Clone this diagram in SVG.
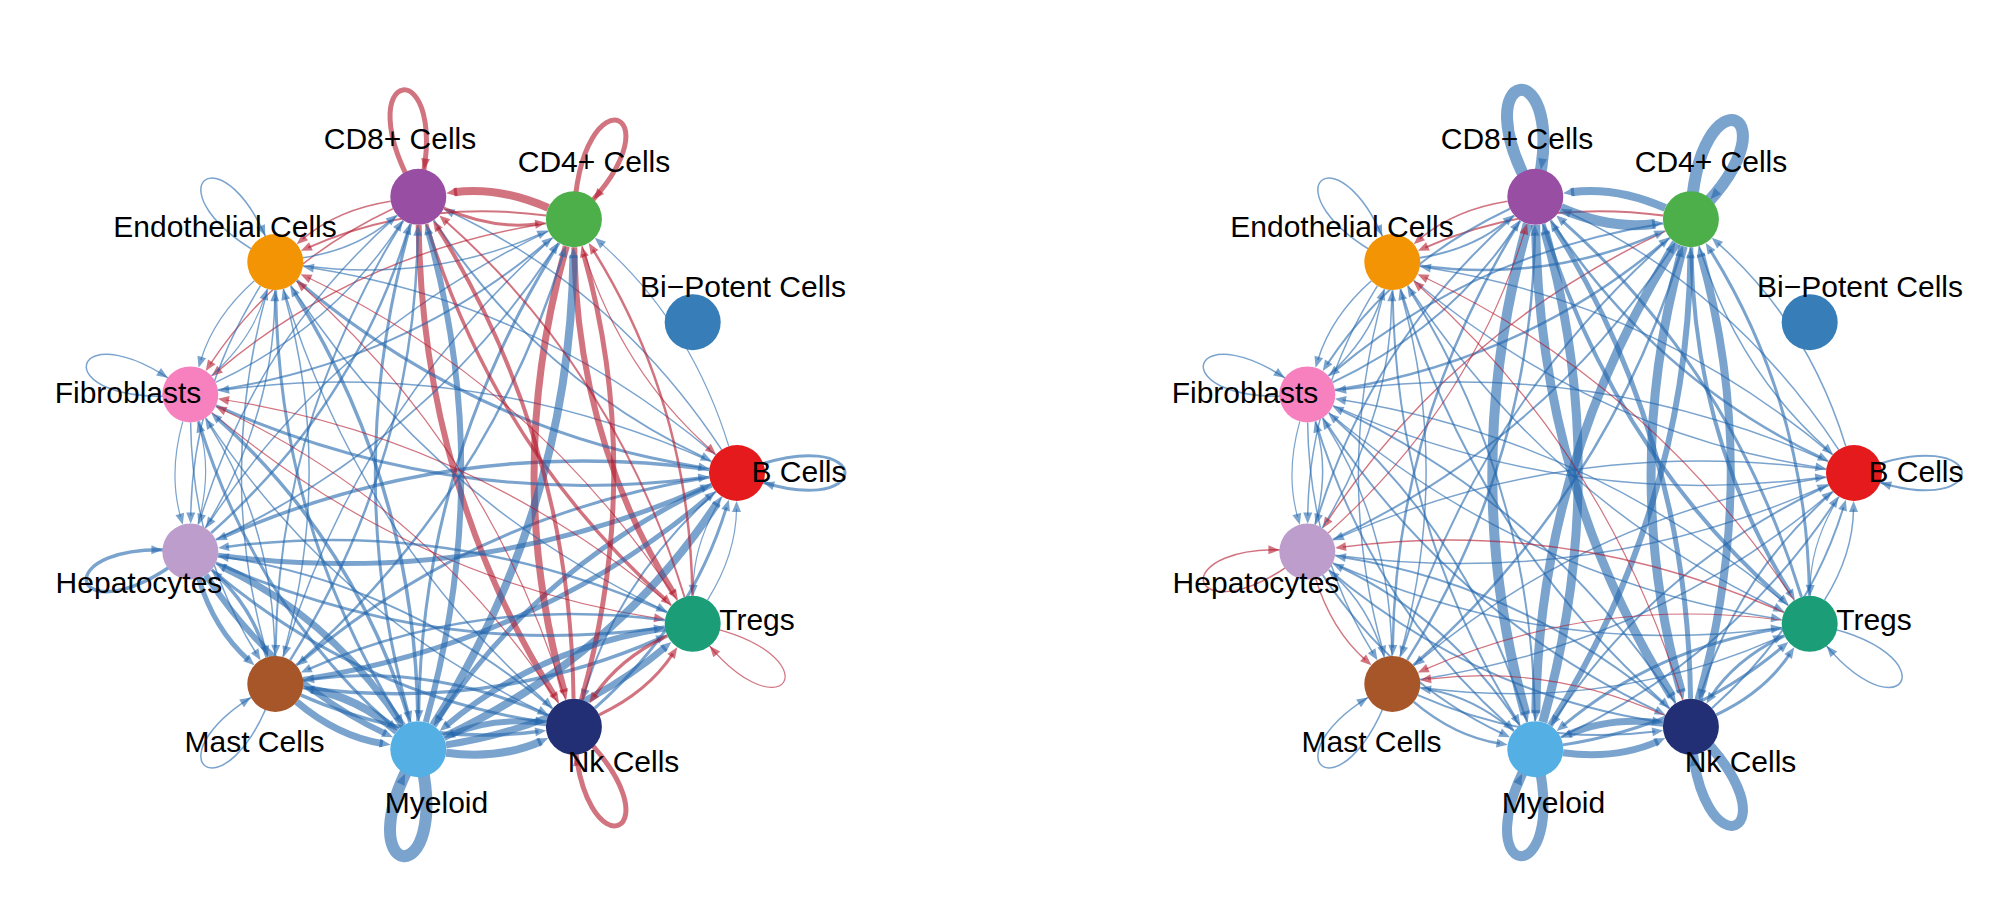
<svg xmlns="http://www.w3.org/2000/svg" width="2000" height="924" viewBox="0 0 2000 924">
<style>
.r{stroke:#b2182b;fill:#b2182b;stroke-opacity:.6;fill-opacity:.6}
.b{stroke:#2166ac;fill:#2166ac;stroke-opacity:.6;fill-opacity:.6}
.lbl{font-family:"Liberation Sans",Arial,Helvetica,sans-serif;font-size:30px;fill:#000;text-anchor:middle}
</style>
<defs>
<g id="e1"><path fill="none" d="M278.6,-28.0 Q277.96,-81.6 253.8,-120.3"/><polygon stroke="none" points="249.5,-127.1 251.6,-115.3 259.2,-120.1"/></g>
<g id="e2"><path fill="none" d="M270.8,-26.8 Q232.98,-149.74 142.8,-229.9"/><polygon stroke="none" points="136.8,-235.2 142.1,-224.5 148.0,-231.3"/></g>
<g id="e3"><path fill="none" d="M263.6,-23.4 Q158.32,-182.72 -7.1,-260.8"/><polygon stroke="none" points="-14.4,-264.2 -6.3,-255.5 -2.5,-263.6"/></g>
<g id="e4"><path fill="none" d="M257.6,-18.1 Q77.68,-170.09 -147.1,-205.3"/><polygon stroke="none" points="-155.0,-206.6 -144.9,-200.4 -143.5,-209.3"/></g>
<g id="e5"><path fill="none" d="M253.4,-11.3 Q16.65,-115.83 -232.0,-83.3"/><polygon stroke="none" points="-239.9,-82.2 -228.4,-79.2 -229.6,-88.1"/></g>
<g id="e6"><path fill="none" d="M251.2,-3.6 Q-5.35,-37.23 -234.8,64.1"/><polygon stroke="none" points="-242.1,67.3 -230.2,67.0 -233.8,58.7"/></g>
<g id="e7"><path fill="none" d="M251.3,4.3 Q18.62,40.81 -155.2,187.7"/><polygon stroke="none" points="-161.3,192.8 -150.0,189.2 -155.8,182.3"/></g>
<g id="e8"><path fill="none" d="M253.7,12.0 Q80.98,93.48 -19.9,246.2"/><polygon stroke="none" points="-24.3,252.8 -14.5,246.2 -22.0,241.2"/></g>
<g id="e9"><path fill="none" d="M258.1,18.6 Q161.92,104.06 126.5,219.4"/><polygon stroke="none" points="124.1,227.0 131.7,217.8 123.1,215.2"/></g>
<g id="e10"><path fill="none" d="M264.2,23.7 Q235.75,69.2 235.2,114.8"/><polygon stroke="none" points="235.1,122.8 239.7,111.9 230.7,111.7"/></g>
<g id="lp"><path fill="none" d="M0,0 C144,-60 144,60 0,0"/><polygon stroke="none" points="26.3,9.5 35.5,17.0 38.1,8.4"/></g>
</defs>
<rect width="2000" height="924" fill="#fff"/>

<g id="connectors-left" transform="translate(458,473)">
 <g transform="rotate(0)">
  <use href="#lp" x="279" class="b" stroke-width="3"/>
  <use href="#e2" class="b" stroke-width="1.2"/>
  <use href="#e3" class="b" stroke-width="1.5"/>
  <use href="#e4" class="b" stroke-width="1.5"/>
  <use href="#e5" class="b" stroke-width="1.5"/>
  <use href="#e6" class="b" stroke-width="3.5"/>
  <use href="#e7" class="b" stroke-width="3"/>
  <use href="#e8" class="b" stroke-width="5"/>
  <use href="#e9" class="b" stroke-width="2"/>
  <use href="#e10" class="b" stroke-width="1.2"/>
 </g>
 <g transform="rotate(-65.4545)">
  <use href="#lp" x="279" class="r" stroke-width="5"/>
  <use href="#e9" class="r" stroke-width="1.2"/>
  <use href="#e1" class="r" stroke-width="8"/>
  <use href="#e2" class="r" stroke-width="2"/>
  <use href="#e3" class="r" stroke-width="1.5"/>
  <use href="#e4" class="b" stroke-width="1.5"/>
  <use href="#e5" class="b" stroke-width="1.5"/>
  <use href="#e6" class="b" stroke-width="3"/>
  <use href="#e7" class="r" stroke-width="7"/>
  <use href="#e8" class="r" stroke-width="6"/>
 </g>
 <g transform="rotate(-98.1818)">
  <use href="#lp" x="279" class="r" stroke-width="5"/>
  <use href="#e8" class="b" stroke-width="2"/>
  <use href="#e10" class="r" stroke-width="3"/>
  <use href="#e1" class="r" stroke-width="1.5"/>
  <use href="#e2" class="r" stroke-width="1.5"/>
  <use href="#e3" class="b" stroke-width="1.5"/>
  <use href="#e4" class="b" stroke-width="2"/>
  <use href="#e5" class="b" stroke-width="3"/>
  <use href="#e6" class="r" stroke-width="6"/>
  <use href="#e7" class="r" stroke-width="3.5"/>
 </g>
 <g transform="rotate(-130.9091)">
  <use href="#lp" x="279" class="b" stroke-width="1.5"/>
  <use href="#e7" class="b" stroke-width="3"/>
  <use href="#e9" class="b" stroke-width="1.5"/>
  <use href="#e10" class="b" stroke-width="1.5"/>
  <use href="#e1" class="b" stroke-width="1.2"/>
  <use href="#e2" class="b" stroke-width="1.5"/>
  <use href="#e3" class="b" stroke-width="1.5"/>
  <use href="#e4" class="b" stroke-width="3"/>
  <use href="#e5" class="b" stroke-width="1.5"/>
  <use href="#e6" class="b" stroke-width="1.5"/>
 </g>
 <g transform="rotate(-163.6364)">
  <use href="#lp" x="279" class="b" stroke-width="1.5"/>
  <use href="#e6" class="b" stroke-width="3"/>
  <use href="#e8" class="b" stroke-width="2"/>
  <use href="#e9" class="b" stroke-width="1.5"/>
  <use href="#e10" class="b" stroke-width="1.2"/>
  <use href="#e1" class="b" stroke-width="1.2"/>
  <use href="#e2" class="b" stroke-width="1.5"/>
  <use href="#e3" class="b" stroke-width="3"/>
  <use href="#e4" class="b" stroke-width="1.5"/>
  <use href="#e5" class="r" stroke-width="1.2"/>
 </g>
 <g transform="rotate(-196.3636)">
  <use href="#lp" x="279" class="b" stroke-width="3.5"/>
  <use href="#e5" class="b" stroke-width="5"/>
  <use href="#e7" class="b" stroke-width="2"/>
  <use href="#e8" class="b" stroke-width="2.5"/>
  <use href="#e9" class="b" stroke-width="1.5"/>
  <use href="#e10" class="b" stroke-width="1.2"/>
  <use href="#e1" class="b" stroke-width="5"/>
  <use href="#e2" class="b" stroke-width="6"/>
  <use href="#e3" class="b" stroke-width="3"/>
  <use href="#e4" class="b" stroke-width="3"/>
 </g>
 <g transform="rotate(-229.0909)">
  <use href="#lp" x="279" class="b" stroke-width="1.5"/>
  <use href="#e4" class="b" stroke-width="5"/>
  <use href="#e6" class="b" stroke-width="2.5"/>
  <use href="#e7" class="b" stroke-width="2.5"/>
  <use href="#e8" class="b" stroke-width="1.5"/>
  <use href="#e9" class="b" stroke-width="1.5"/>
  <use href="#e10" class="b" stroke-width="3.5"/>
  <use href="#e1" class="b" stroke-width="7"/>
  <use href="#e2" class="b" stroke-width="3.5"/>
  <use href="#e3" class="b" stroke-width="3.5"/>
 </g>
 <g transform="rotate(-261.8182)">
  <use href="#lp" x="279" class="b" stroke-width="12"/>
  <use href="#e3" class="b" stroke-width="8"/>
  <use href="#e5" class="b" stroke-width="8"/>
  <use href="#e6" class="b" stroke-width="6"/>
  <use href="#e7" class="b" stroke-width="3.5"/>
  <use href="#e8" class="b" stroke-width="3.5"/>
  <use href="#e9" class="b" stroke-width="7"/>
  <use href="#e10" class="b" stroke-width="8"/>
  <use href="#e1" class="b" stroke-width="8"/>
  <use href="#e2" class="b" stroke-width="7"/>
 </g>
 <g transform="rotate(-294.5455)">
  <use href="#lp" x="279" class="r" stroke-width="5"/>
  <use href="#e2" class="b" stroke-width="3"/>
  <use href="#e4" class="r" stroke-width="5"/>
  <use href="#e5" class="r" stroke-width="4"/>
  <use href="#e6" class="r" stroke-width="1.2"/>
  <use href="#e7" class="r" stroke-width="1.2"/>
  <use href="#e8" class="b" stroke-width="2"/>
  <use href="#e9" class="b" stroke-width="3"/>
  <use href="#e10" class="b" stroke-width="6"/>
  <use href="#e1" class="r" stroke-width="3"/>
 </g>
 <g transform="rotate(-327.2727)">
  <use href="#lp" x="279" class="r" stroke-width="1.2"/>
  <use href="#e1" class="b" stroke-width="1.2"/>
  <use href="#e3" class="r" stroke-width="2.5"/>
  <use href="#e4" class="r" stroke-width="2"/>
  <use href="#e5" class="r" stroke-width="1.2"/>
  <use href="#e6" class="r" stroke-width="1.2"/>
  <use href="#e7" class="b" stroke-width="2.5"/>
  <use href="#e8" class="b" stroke-width="2.5"/>
  <use href="#e9" class="b" stroke-width="6"/>
  <use href="#e10" class="r" stroke-width="3.5"/>
 </g>
</g>

<g id="connectors-right" transform="translate(1575,473)">
 <g transform="rotate(0)">
  <use href="#lp" x="279" class="b" stroke-width="2"/>
  <use href="#e2" class="b" stroke-width="1.5"/>
  <use href="#e3" class="b" stroke-width="1.5"/>
  <use href="#e4" class="b" stroke-width="1.5"/>
  <use href="#e5" class="b" stroke-width="1.5"/>
  <use href="#e6" class="b" stroke-width="1.5"/>
  <use href="#e7" class="b" stroke-width="1.5"/>
  <use href="#e8" class="b" stroke-width="2"/>
  <use href="#e9" class="b" stroke-width="2"/>
  <use href="#e10" class="b" stroke-width="1.2"/>
 </g>
 <g transform="rotate(-65.4545)">
  <use href="#lp" x="279" class="b" stroke-width="12"/>
  <use href="#e9" class="b" stroke-width="1.5"/>
  <use href="#e1" class="b" stroke-width="8"/>
  <use href="#e2" class="r" stroke-width="2"/>
  <use href="#e3" class="b" stroke-width="2"/>
  <use href="#e4" class="r" stroke-width="1.5"/>
  <use href="#e5" class="b" stroke-width="2"/>
  <use href="#e6" class="b" stroke-width="9"/>
  <use href="#e7" class="b" stroke-width="9"/>
  <use href="#e8" class="b" stroke-width="4"/>
 </g>
 <g transform="rotate(-98.1818)">
  <use href="#lp" x="279" class="b" stroke-width="12"/>
  <use href="#e8" class="b" stroke-width="2.5"/>
  <use href="#e10" class="b" stroke-width="10"/>
  <use href="#e1" class="r" stroke-width="1.5"/>
  <use href="#e2" class="b" stroke-width="2"/>
  <use href="#e3" class="b" stroke-width="2"/>
  <use href="#e4" class="b" stroke-width="2.5"/>
  <use href="#e5" class="b" stroke-width="10"/>
  <use href="#e6" class="b" stroke-width="9"/>
  <use href="#e7" class="b" stroke-width="4"/>
 </g>
 <g transform="rotate(-130.9091)">
  <use href="#lp" x="279" class="b" stroke-width="1.5"/>
  <use href="#e7" class="b" stroke-width="1.5"/>
  <use href="#e9" class="b" stroke-width="2.5"/>
  <use href="#e10" class="b" stroke-width="2"/>
  <use href="#e1" class="b" stroke-width="1.5"/>
  <use href="#e2" class="b" stroke-width="1.5"/>
  <use href="#e3" class="b" stroke-width="1.5"/>
  <use href="#e4" class="b" stroke-width="2"/>
  <use href="#e5" class="b" stroke-width="2"/>
  <use href="#e6" class="b" stroke-width="1.5"/>
 </g>
 <g transform="rotate(-163.6364)">
  <use href="#lp" x="279" class="b" stroke-width="1.5"/>
  <use href="#e6" class="b" stroke-width="1.5"/>
  <use href="#e8" class="b" stroke-width="2.5"/>
  <use href="#e9" class="b" stroke-width="2"/>
  <use href="#e10" class="b" stroke-width="1.5"/>
  <use href="#e1" class="b" stroke-width="1.2"/>
  <use href="#e2" class="b" stroke-width="1.5"/>
  <use href="#e3" class="b" stroke-width="2"/>
  <use href="#e4" class="b" stroke-width="2"/>
  <use href="#e5" class="b" stroke-width="1.5"/>
 </g>
 <g transform="rotate(-196.3636)">
  <use href="#lp" x="279" class="r" stroke-width="1.5"/>
  <use href="#e5" class="b" stroke-width="1.5"/>
  <use href="#e7" class="b" stroke-width="2"/>
  <use href="#e8" class="r" stroke-width="1.2"/>
  <use href="#e9" class="b" stroke-width="1.5"/>
  <use href="#e10" class="b" stroke-width="1.5"/>
  <use href="#e1" class="r" stroke-width="1.5"/>
  <use href="#e2" class="b" stroke-width="2"/>
  <use href="#e3" class="b" stroke-width="2"/>
  <use href="#e4" class="b" stroke-width="1.5"/>
 </g>
 <g transform="rotate(-229.0909)">
  <use href="#lp" x="279" class="b" stroke-width="1.5"/>
  <use href="#e4" class="b" stroke-width="1.5"/>
  <use href="#e6" class="b" stroke-width="2.5"/>
  <use href="#e7" class="b" stroke-width="2.5"/>
  <use href="#e8" class="b" stroke-width="1.5"/>
  <use href="#e9" class="b" stroke-width="1.5"/>
  <use href="#e10" class="b" stroke-width="1.5"/>
  <use href="#e1" class="b" stroke-width="2.5"/>
  <use href="#e2" class="b" stroke-width="2"/>
  <use href="#e3" class="b" stroke-width="1.5"/>
 </g>
 <g transform="rotate(-261.8182)">
  <use href="#lp" x="279" class="b" stroke-width="10"/>
  <use href="#e3" class="b" stroke-width="2"/>
  <use href="#e5" class="b" stroke-width="6"/>
  <use href="#e6" class="b" stroke-width="9"/>
  <use href="#e7" class="b" stroke-width="2"/>
  <use href="#e8" class="b" stroke-width="2"/>
  <use href="#e9" class="b" stroke-width="2"/>
  <use href="#e10" class="b" stroke-width="2"/>
  <use href="#e1" class="b" stroke-width="7"/>
  <use href="#e2" class="b" stroke-width="3"/>
 </g>
 <g transform="rotate(-294.5455)">
  <use href="#lp" x="279" class="b" stroke-width="10"/>
  <use href="#e2" class="b" stroke-width="2"/>
  <use href="#e4" class="b" stroke-width="8"/>
  <use href="#e5" class="b" stroke-width="5"/>
  <use href="#e6" class="r" stroke-width="1.2"/>
  <use href="#e7" class="b" stroke-width="2"/>
  <use href="#e8" class="b" stroke-width="2"/>
  <use href="#e9" class="r" stroke-width="1.2"/>
  <use href="#e10" class="b" stroke-width="7"/>
  <use href="#e1" class="b" stroke-width="3"/>
 </g>
 <g transform="rotate(-327.2727)">
  <use href="#lp" x="279" class="b" stroke-width="1.5"/>
  <use href="#e1" class="b" stroke-width="1.5"/>
  <use href="#e3" class="b" stroke-width="3"/>
  <use href="#e4" class="b" stroke-width="3"/>
  <use href="#e5" class="r" stroke-width="1.2"/>
  <use href="#e6" class="b" stroke-width="1.5"/>
  <use href="#e7" class="r" stroke-width="1.5"/>
  <use href="#e8" class="r" stroke-width="1.2"/>
  <use href="#e9" class="b" stroke-width="3"/>
  <use href="#e10" class="b" stroke-width="3"/>
 </g>
</g>

<g id="node-left-b"><circle cx="737" cy="473" r="28" fill="#E41A1C"/><text class="lbl" x="799" y="482">B Cells</text></g>
<g id="node-left-bipotent"><circle cx="692.7" cy="322.2" r="28" fill="#377EB8"/><text class="lbl" x="743" y="297">Bi−Potent Cells</text></g>
<g id="node-left-cd4"><circle cx="573.9" cy="219.2" r="28" fill="#4DAF4A"/><text class="lbl" x="594" y="172">CD4+ Cells</text></g>
<g id="node-left-cd8"><circle cx="418.3" cy="196.8" r="28" fill="#984EA3"/><text class="lbl" x="400" y="149">CD8+ Cells</text></g>
<g id="node-left-endo"><circle cx="275.3" cy="262.1" r="28" fill="#F29403"/><text class="lbl" x="225" y="237">Endothelial Cells</text></g>
<g id="node-left-fibro"><circle cx="190.3" cy="394.4" r="28" fill="#F781BF"/><text class="lbl" x="128" y="403">Fibroblasts</text></g>
<g id="node-left-hep"><circle cx="190.3" cy="551.6" r="28" fill="#BC9DCC"/><text class="lbl" x="139" y="593">Hepatocytes</text></g>
<g id="node-left-mast"><circle cx="275.3" cy="683.9" r="28" fill="#A65628"/><text class="lbl" x="254.5" y="752">Mast Cells</text></g>
<g id="node-left-myeloid"><circle cx="418.3" cy="749.2" r="28" fill="#54B0E4"/><text class="lbl" x="436.5" y="813">Myeloid</text></g>
<g id="node-left-nk"><circle cx="573.9" cy="726.8" r="28" fill="#222F75"/><text class="lbl" x="623.5" y="772">Nk Cells</text></g>
<g id="node-left-tregs"><circle cx="692.7" cy="623.8" r="28" fill="#1B9E77"/><text class="lbl" x="757" y="630">Tregs</text></g>

<g id="node-right-b"><circle cx="1854" cy="473" r="28" fill="#E41A1C"/><text class="lbl" x="1916" y="482">B Cells</text></g>
<g id="node-right-bipotent"><circle cx="1809.7" cy="322.2" r="28" fill="#377EB8"/><text class="lbl" x="1860" y="297">Bi−Potent Cells</text></g>
<g id="node-right-cd4"><circle cx="1690.9" cy="219.2" r="28" fill="#4DAF4A"/><text class="lbl" x="1711" y="172">CD4+ Cells</text></g>
<g id="node-right-cd8"><circle cx="1535.3" cy="196.8" r="28" fill="#984EA3"/><text class="lbl" x="1517" y="149">CD8+ Cells</text></g>
<g id="node-right-endo"><circle cx="1392.3" cy="262.1" r="28" fill="#F29403"/><text class="lbl" x="1342" y="237">Endothelial Cells</text></g>
<g id="node-right-fibro"><circle cx="1307.3" cy="394.4" r="28" fill="#F781BF"/><text class="lbl" x="1245" y="403">Fibroblasts</text></g>
<g id="node-right-hep"><circle cx="1307.3" cy="551.6" r="28" fill="#BC9DCC"/><text class="lbl" x="1256" y="593">Hepatocytes</text></g>
<g id="node-right-mast"><circle cx="1392.3" cy="683.9" r="28" fill="#A65628"/><text class="lbl" x="1371.5" y="752">Mast Cells</text></g>
<g id="node-right-myeloid"><circle cx="1535.3" cy="749.2" r="28" fill="#54B0E4"/><text class="lbl" x="1553.5" y="813">Myeloid</text></g>
<g id="node-right-nk"><circle cx="1690.9" cy="726.8" r="28" fill="#222F75"/><text class="lbl" x="1740.5" y="772">Nk Cells</text></g>
<g id="node-right-tregs"><circle cx="1809.7" cy="623.8" r="28" fill="#1B9E77"/><text class="lbl" x="1874" y="630">Tregs</text></g>
</svg>
